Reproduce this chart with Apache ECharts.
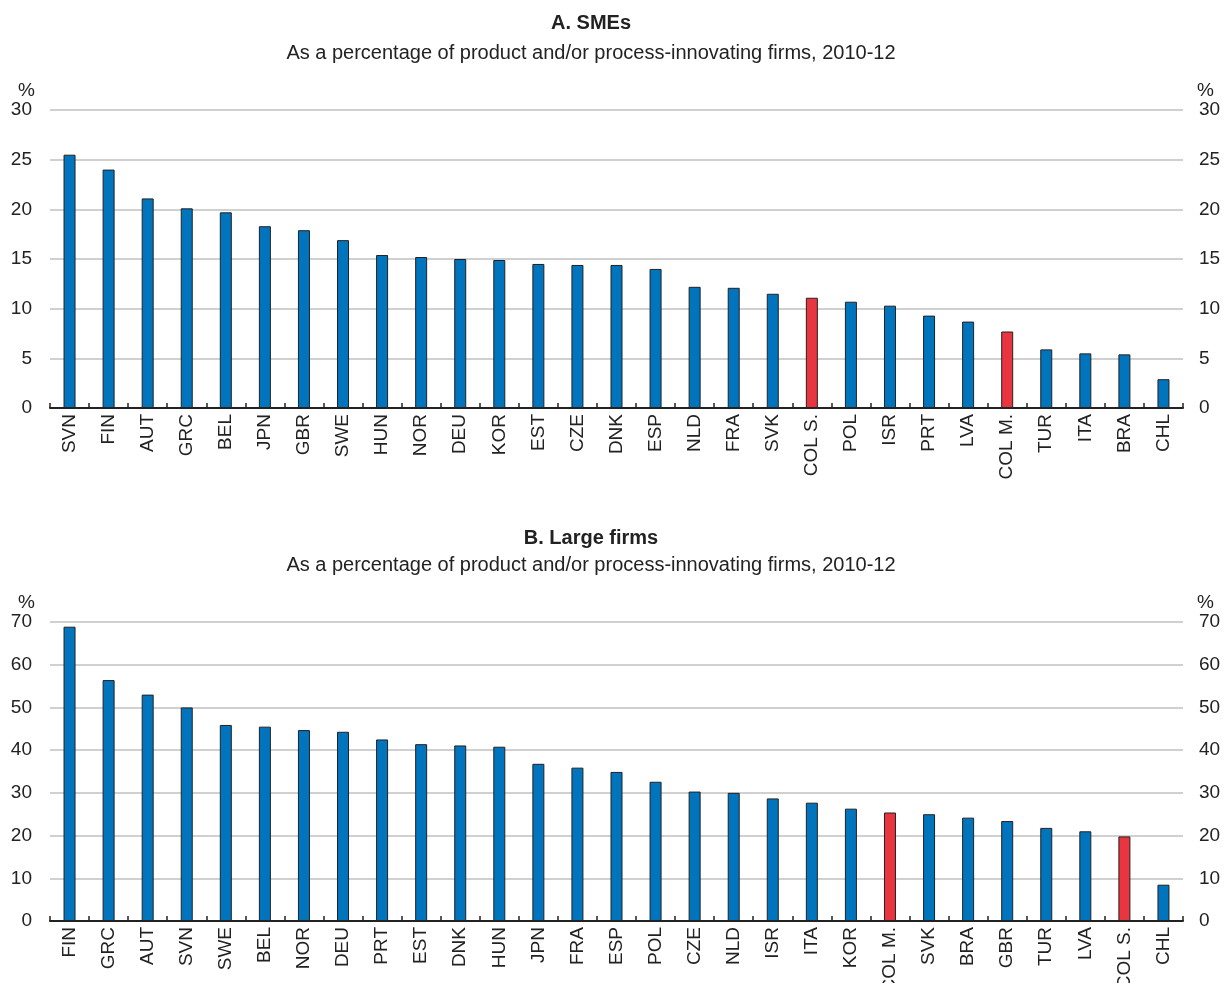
<!DOCTYPE html>
<html>
<head>
<meta charset="utf-8">
<script src="https://cdn.jsdelivr.net/npm/echarts@6/dist/echarts.min.js"></script>
<style>
  html, body { margin: 0; padding: 0; background: #fff; }
  #chart { width: 1224px; height: 983px; }
</style>
</head>
<body>
<div id="chart"></div>
<script>
// Panel A: SMEs
const smeCountries = ['SVN', 'FIN', 'AUT', 'GRC', 'BEL', 'JPN', 'GBR', 'SWE', 'HUN', 'NOR', 'DEU', 'KOR', 'EST', 'CZE', 'DNK', 'ESP', 'NLD', 'FRA', 'SVK', 'COL S.', 'POL', 'ISR', 'PRT', 'LVA', 'COL M.', 'TUR', 'ITA', 'BRA', 'CHL'];
const smeValues = [25.5, 24.0, 21.1, 20.1, 19.7, 18.3, 17.9, 16.9, 15.4, 15.2, 15.0, 14.9, 14.5, 14.4, 14.4, 14.0, 12.2, 12.1, 11.5, 11.1, 10.7, 10.3, 9.3, 8.7, 7.7, 5.9, 5.5, 5.4, 2.9];
const smeTicks = [0, 5, 10, 15, 20, 25, 30];

// Panel B: Large firms
const largeCountries = ['FIN', 'GRC', 'AUT', 'SVN', 'SWE', 'BEL', 'NOR', 'DEU', 'PRT', 'EST', 'DNK', 'HUN', 'JPN', 'FRA', 'ESP', 'POL', 'CZE', 'NLD', 'ISR', 'ITA', 'KOR', 'COL M.', 'SVK', 'BRA', 'GBR', 'TUR', 'LVA', 'COL S.', 'CHL'];
const largeValues = [68.9, 56.4, 53.0, 50.0, 45.9, 45.5, 44.7, 44.3, 42.5, 41.4, 41.1, 40.8, 36.8, 35.9, 34.9, 32.6, 30.3, 30.0, 28.7, 27.7, 26.3, 25.4, 25.0, 24.2, 23.4, 21.8, 21.0, 19.8, 8.5];
const largeTicks = [0, 10, 20, 30, 40, 50, 60, 70];

const BLUE = '#0075be';
const RED = '#e8353f';
const FONT = "'Liberation Sans Narrow', 'Arial Narrow', 'Liberation Sans', sans-serif";
const TEXT = '#222';

function barData(names, values) {
  return values.map((v, i) => ({
    value: v,
    itemStyle: { color: names[i].startsWith('COL') ? RED : BLUE }
  }));
}

function xAxisFor(gridIndex, names) {
  return {
    type: 'category',
    gridIndex: gridIndex,
    data: names,
    boundaryGap: true,
    axisLine: { lineStyle: { color: '#222', width: 2 } },
    axisTick: { show: true, inside: true, length: 5, lineStyle: { color: '#222', width: 1.5 } },
    axisLabel: { rotate: 90, color: TEXT, fontSize: 19, fontFamily: FONT, margin: 6 },
    splitLine: { show: false }
  };
}

function yAxisFor(gridIndex, ticks, position) {
  const max = ticks[ticks.length - 1];
  return {
    type: 'value',
    gridIndex: gridIndex,
    position: position,
    min: 0,
    max: max,
    interval: ticks[1] - ticks[0],
    name: '%',
    nameLocation: 'end',
    nameGap: 10,
    nameTextStyle: {
      color: TEXT, fontSize: 19, fontFamily: FONT,
      align: position === 'left' ? 'right' : 'left',
      padding: position === 'left' ? [0, 15, 0, 0] : [0, 0, 0, 14]
    },
    axisLine: { show: false },
    axisTick: { show: false },
    axisLabel: {
      color: TEXT, fontSize: 19, fontFamily: FONT,
      margin: position === 'left' ? 18 : 16
    },
    splitLine: position === 'left'
      ? { show: true, lineStyle: { color: '#d0d0d0', width: 2 } }
      : { show: false }
  };
}

const chart = echarts.init(document.getElementById('chart'));
chart.setOption({
  animation: false,
  title: [
    { text: 'A. SMEs', left: 586, top: 8, textAlign: 'center',
      textStyle: { fontSize: 20, fontWeight: 'bold', color: TEXT, fontFamily: FONT } },
    { text: 'As a percentage of product and/or process-innovating firms, 2010-12', left: 586, top: 38, textAlign: 'center',
      textStyle: { fontSize: 20, fontWeight: 'normal', color: TEXT, fontFamily: FONT } },
    { text: 'B. Large firms', left: 586, top: 523, textAlign: 'center',
      textStyle: { fontSize: 20, fontWeight: 'bold', color: TEXT, fontFamily: FONT } },
    { text: 'As a percentage of product and/or process-innovating firms, 2010-12', left: 586, top: 550, textAlign: 'center',
      textStyle: { fontSize: 20, fontWeight: 'normal', color: TEXT, fontFamily: FONT } }
  ],
  grid: [
    { left: 50, right: 41, top: 110, height: 298, outerBoundsMode: 'none' },
    { left: 50, right: 41, top: 622, height: 299, outerBoundsMode: 'none' }
  ],
  xAxis: [xAxisFor(0, smeCountries), xAxisFor(1, largeCountries)],
  yAxis: [
    yAxisFor(0, smeTicks, 'left'),
    yAxisFor(0, smeTicks, 'right'),
    yAxisFor(1, largeTicks, 'left'),
    yAxisFor(1, largeTicks, 'right')
  ],
  series: [
    {
      type: 'bar', xAxisIndex: 0, yAxisIndex: 0, barWidth: 12,
      data: barData(smeCountries, smeValues),
      itemStyle: { borderColor: '#222', borderWidth: 1 }
    },
    {
      type: 'bar', xAxisIndex: 1, yAxisIndex: 2, barWidth: 12,
      data: barData(largeCountries, largeValues),
      itemStyle: { borderColor: '#222', borderWidth: 1 }
    }
  ]
});
</script>
</body>
</html>
